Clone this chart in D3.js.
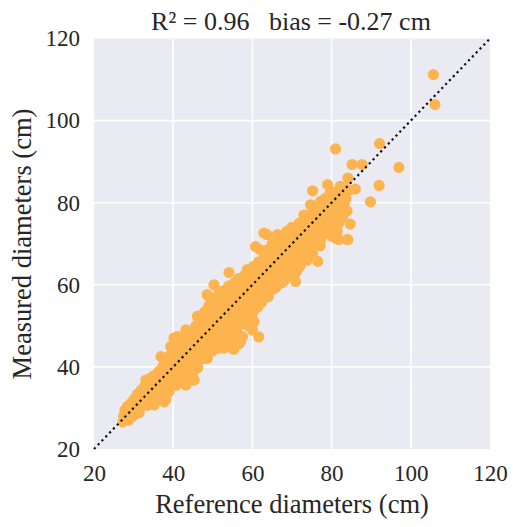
<!DOCTYPE html>
<html>
<head>
<meta charset="utf-8">
<script src="https://cdn.jsdelivr.net/npm/d3@7/dist/d3.min.js"></script>
<style>
html,body{margin:0;padding:0;background:#fff;}
svg{display:block;}
svg text{font-family:"Liberation Serif","DejaVu Serif",serif !important;fill:#262626;}
</style>
</head>
<body>
<svg id="chart" width="519" height="527"></svg>
<script>
const titleText = "R\u00b2 = 0.96   bias = -0.27 cm";
const xLabel = "Reference diameters (cm)";
const yLabel = "Measured diameters (cm)";
const xTicks = [20, 40, 60, 80, 100, 120];
const yTicks = [20, 40, 60, 80, 100, 120];
const axisDomain = [20, 120];

// [reference, measured] pairs
const samples = [
[27.3,26.6],[27.5,28.0],[27.8,29.4],[28.1,27.2],[28.4,30.3],[28.6,28.5],[28.9,27.6],[29.2,31.0],[29.4,29.2],[29.7,28.1],
[30.0,30.4],[30.2,32.2],[30.5,29.0],[30.8,31.5],[31.0,33.4],[31.3,30.1],[31.6,32.5],[31.9,34.3],[32.1,30.8],[32.4,33.1],
[32.7,35.2],[33.0,31.9],[33.1,36.8],[33.3,34.0],[33.6,32.6],[33.9,35.6],[34.2,33.7],[34.5,37.4],[34.7,32.9],[35.0,35.4],
[35.2,30.7],[35.4,38.0],[35.7,34.1],[36.0,36.5],[36.2,33.2],[36.5,39.0],[36.9,42.5],[36.8,35.0],[37.1,37.6],[37.4,40.1],
[37.7,31.5],[37.9,36.0],[38.1,32.0],[38.2,38.8],[38.5,41.2],[38.7,34.6],[39.0,37.2],[39.3,43.0],[39.4,45.0],[39.6,39.6],
[39.8,35.8],[40.1,41.8],[40.2,47.0],[40.3,38.0],[40.6,43.9],[40.8,36.4],[41.1,47.4],[41.0,40.2],[41.3,45.0],[41.6,37.8],
[41.9,42.5],[42.2,39.5],[42.4,46.3],[42.7,36.0],[42.8,44.0],[43.0,41.0],[43.2,49.0],[43.2,35.6],[43.5,38.6],[43.7,47.0],
[44.0,42.8],[44.2,40.0],[44.5,45.1],[44.9,38.5],[44.8,48.3],[45.1,43.5],[45.3,36.8],[45.4,41.2],[45.7,50.0],[45.9,46.0],
[46.1,52.3],[46.2,39.8],[46.4,44.0],[46.7,48.6],[47.0,42.0],[47.2,51.0],[47.5,45.8],[47.8,42.1],[47.9,53.4],[48.1,47.6],
[48.3,44.3],[48.6,57.6],[48.6,42.1],[48.8,50.2],[49.0,54.8],[49.0,57.1],[49.3,46.0],[49.5,52.0],[49.8,43.8],[50.0,48.5],
[50.3,60.0],[50.2,56.0],[50.5,45.5],[50.8,53.3],[51.0,50.0],[51.2,47.2],[51.5,57.8],[51.7,44.6],[52.0,55.0],[52.2,51.5],
[52.5,48.3],[52.8,44.6],[52.7,58.6],[53.0,53.0],[53.2,46.5],[53.5,56.5],[53.7,50.0],[54.0,59.7],[54.1,63.0],[54.2,48.0],
[54.4,54.0],[54.7,51.5],[54.9,44.6],[55.0,57.6],[55.3,44.3],[55.2,46.8],[55.5,60.5],[55.7,53.0],[56.0,49.5],[56.2,48.2],
[56.3,56.0],[56.6,45.6],[56.5,61.5],[56.8,52.0],[57.0,46.2],[57.1,58.5],[57.4,54.5],[57.5,47.4],[57.7,50.5],[58.0,62.3],
[58.2,56.5],[58.4,52.8],[58.7,63.7],[58.8,59.0],[59.0,50.0],[59.2,55.0],[59.5,61.0],[59.5,51.5],[59.7,57.5],[60.0,49.0],
[60.0,53.0],[60.3,64.5],[60.4,51.0],[60.5,59.5],[60.8,69.3],[60.8,56.0],[61.0,62.0],[61.3,54.5],[61.6,47.3],[61.5,65.5],
[61.8,58.5],[62.0,68.5],[62.1,60.5],[62.4,55.8],[62.7,63.5],[62.9,72.6],[63.0,57.5],[63.2,66.0],[63.5,60.0],[63.7,72.2],
[63.8,68.5],[64.0,57.1],[64.3,62.5],[64.5,65.0],[64.8,58.8],[65.0,70.0],[65.2,60.5],[65.5,67.2],[65.8,63.5],[66.0,59.5],
[66.3,72.2],[66.2,70.8],[66.5,65.0],[66.8,61.5],[67.0,68.3],[67.3,63.0],[67.5,71.5],[67.8,66.0],[68.0,61.0],[68.2,69.5],
[68.5,64.0],[68.7,73.0],[68.9,67.0],[69.2,62.5],[69.4,71.0],[69.7,65.5],[70.0,74.0],[70.0,68.5],[70.3,63.5],[70.4,73.4],
[70.6,70.0],[70.9,60.8],[70.9,62.9],[71.0,66.5],[71.3,72.0],[71.5,68.0],[71.8,75.0],[72.0,64.5],[72.3,70.5],[72.6,66.5],
[72.8,73.5],[73.0,77.0],[73.2,68.5],[73.4,75.9],[73.5,71.5],[73.8,66.0],[74.0,74.0],[74.3,69.5],[74.7,79.5],[74.6,72.5],
[75.0,76.5],[75.2,82.9],[75.2,67.5],[75.5,70.0],[75.8,78.0],[76.0,73.5],[76.5,65.7],[76.3,75.8],[76.6,71.5],[77.0,79.0],
[77.2,71.0],[77.2,80.3],[77.5,76.0],[77.8,73.5],[78.0,78.0],[78.3,81.0],[78.5,74.5],[78.9,74.2],[79.0,84.4],[79.0,77.0],
[79.3,81.5],[79.6,79.5],[80.0,72.5],[80.1,71.8],[80.2,76.5],[80.5,82.5],[80.8,79.0],[81.0,71.4],[81.0,93.1],[81.4,73.0],
[81.5,77.5],[81.8,75.0],[81.8,71.0],[82.0,81.0],[82.2,84.0],[82.5,78.5],[83.0,82.0],[83.2,80.0],[83.9,78.0],[83.9,71.0],
[84.1,71.0],[84.1,86.0],[84.3,83.0],[84.7,74.8],[85.2,89.3],[86.0,83.3],[87.7,89.3],[89.8,80.2],[92.0,84.2],[92.1,94.4],
[97.0,88.6],[105.7,111.2],[106.1,103.9],
[28.2,29.0],[28.7,27.0],[29.0,30.0],[29.5,27.8],[29.9,31.6],[30.3,28.4],[30.6,30.8],[31.1,32.0],[31.4,28.9],[31.8,31.2],
[32.3,34.5],[32.5,31.6],[32.9,33.5],[33.4,30.6],[33.8,34.5],[34.1,36.0],[34.4,31.7],[34.9,34.2],[35.3,36.6],[35.6,32.5],
[36.1,35.2],[36.4,37.8],[36.7,33.9],[37.2,39.0],[37.5,35.0],[37.8,41.5],[38.3,36.9],[38.6,39.8],[38.9,33.9],[39.2,41.0],
[39.5,37.0],[39.9,43.8],[40.4,39.5],[40.7,35.5],[41.2,43.0],[41.5,39.0],[41.8,44.8],[42.0,37.2],[42.5,41.3],[42.9,47.5],
[43.3,39.8],[43.6,44.5],[43.9,37.5],[44.3,46.5],[44.6,41.8],[45.0,39.8],[45.5,47.8],[45.8,44.0],[46.0,41.0],[46.5,50.5],
[46.9,46.3],[47.3,43.5],[47.6,49.5],[48.0,45.0],[48.4,52.0],[48.9,48.2],[49.2,44.5],[49.7,50.5],[50.1,46.8],[50.6,55.0],
[51.0,51.8],[51.4,48.5],[51.9,53.5],[52.3,46.0],[52.6,56.5],[53.1,49.5],[53.4,54.5],[53.9,47.0],[54.3,57.5],[54.6,49.8],
[55.0,55.0],[55.4,51.2],[55.8,58.5],[56.1,54.0],[56.4,50.5],[56.9,60.0],[57.2,56.5],[57.6,52.5],[58.0,59.5],[58.5,55.0],
[58.9,61.5],[59.3,53.0],[59.6,58.8],[60.1,62.5],[60.6,54.5],[61.0,60.0],[61.4,57.0],[61.9,63.5],[62.3,59.0],[62.6,66.0],
[63.0,61.5],[63.4,57.5],[63.9,64.0],[64.2,60.5],[64.6,67.0],[65.0,63.0],[65.4,59.0],[65.8,68.5],[66.2,62.5],[66.6,67.0],
[67.0,64.5],[67.4,60.5],[67.8,69.5],[68.3,66.0],[68.6,62.0],[69.0,70.5],[69.5,67.5],[69.9,64.5],[70.3,71.5],[70.7,67.0],
[71.2,63.5],[71.6,73.5],[72.0,69.0],[72.5,75.0],[72.9,71.0],[73.3,67.0],[73.7,73.0],[74.2,77.0],[74.6,70.0],[75.0,74.5],
[75.4,79.0],[75.9,72.0],[76.3,77.5],[76.7,74.0],[77.1,69.5],[77.6,78.5],[78.0,75.5],[78.4,72.5],[78.8,79.5],[79.2,76.0],
[79.7,82.5],[80.1,78.0],[80.5,74.5],[81.0,80.5],[81.4,76.5],[81.9,82.5],[82.3,79.5],[82.8,76.5],[83.3,83.5],[83.6,81.0]
];

const svg = d3.select("#chart");
const x = d3.scaleLinear().domain(axisDomain).range([94, 490]);
const y = d3.scaleLinear().domain(axisDomain).range([449, 38.5]);
const serif = "Liberation Serif, DejaVu Serif, serif";

// background
svg.append("rect")
  .attr("x", x(20)).attr("y", y(120))
  .attr("width", x(120) - x(20)).attr("height", y(20) - y(120))
  .attr("fill", "#eaeaf2");

// grid
const g = svg.append("g");
g.selectAll("line.vx").data(xTicks.filter(t => t > 20 && t < 120)).enter().append("line")
  .attr("x1", d => x(d)).attr("x2", d => x(d))
  .attr("y1", y(120)).attr("y2", y(20))
  .attr("stroke", "#fff").attr("stroke-width", 1.6);
g.selectAll("line.hy").data(yTicks.filter(t => t > 20 && t < 120)).enter().append("line")
  .attr("y1", d => y(d)).attr("y2", d => y(d))
  .attr("x1", x(20)).attr("x2", x(120))
  .attr("stroke", "#fff").attr("stroke-width", 1.6);

// axes (tick labels only)
const xAxis = d3.axisBottom(x).tickValues(xTicks).tickSize(0).tickPadding(0);
const xg = svg.append("g").attr("transform", `translate(0,${y(20) + 16})`).call(xAxis)
  .attr("font-family", serif);
xg.select(".domain").remove();
xg.selectAll("text").style("font-size", "23px").style("font-family", serif)
  .attr("fill", "#262626").attr("dy", "0.71em");

const yAxis = d3.axisLeft(y).tickValues(yTicks).tickSize(0).tickPadding(0);
const yg = svg.append("g").attr("transform", `translate(${x(20) - 14},0)`).call(yAxis)
  .attr("font-family", serif);
yg.select(".domain").remove();
yg.selectAll("text").style("font-size", "23px").style("font-family", serif)
  .attr("fill", "#262626");

// points
svg.append("g").selectAll("circle").data(samples).enter().append("circle")
  .attr("cx", d => x(d[0])).attr("cy", d => y(d[1]))
  .attr("r", 5.6)
  .attr("fill", "#fdb44e");

// 1:1 line
svg.append("line")
  .attr("x1", x(20)).attr("y1", y(20))
  .attr("x2", x(120)).attr("y2", y(120))
  .attr("stroke", "#111").attr("stroke-width", 2.2)
  .attr("stroke-dasharray", "2.2 3.3");

// labels
svg.append("text").attr("x", 291).attr("y", 30).attr("text-anchor", "middle")
  .style("font-size", "26px").style("white-space", "pre").attr("xml:space", "preserve")
  .text(titleText);
svg.append("text").attr("x", 292).attr("y", 513).attr("text-anchor", "middle")
  .style("font-size", "26.5px").text(xLabel);
svg.append("text").attr("transform", "translate(31,244) rotate(-90)")
  .attr("text-anchor", "middle").style("font-size", "26.5px").text(yLabel);
</script>
</body>
</html>
